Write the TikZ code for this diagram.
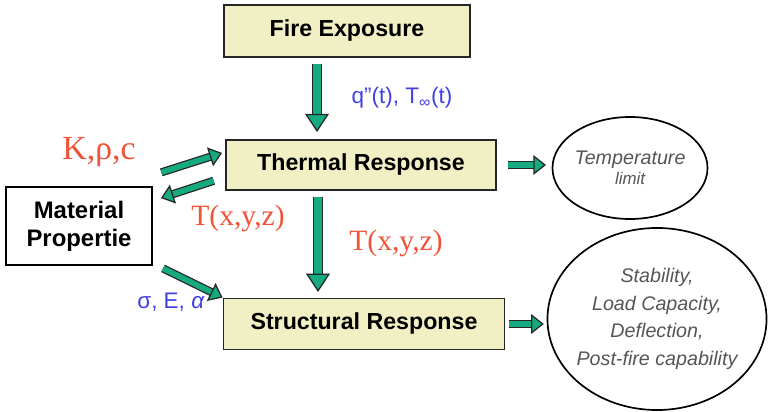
\documentclass[tikz,border=0pt]{standalone}
\usepackage{fontspec}
\setmainfont{Liberation Sans}
\newfontfamily\timesfont{Liberation Serif}
\usepackage{xcolor}
\definecolor{boxfill}{RGB}{240,240,196}
\definecolor{flowgreen}{RGB}{22,170,128}
\definecolor{labelred}{RGB}{240,84,56}
\definecolor{labelblue}{RGB}{64,64,228}
\definecolor{outgray}{RGB}{85,85,85}
\usepackage{tikz}
\usetikzlibrary{
    shapes.geometric,
    arrows.meta,
    positioning,
    calc
}

\begin{document}
\begin{tikzpicture}[x=0.025cm, y=-0.025cm,
        stage/.style={rectangle, draw=black!85, line width=1.3pt, fill=boxfill, font=\fontsize{16.5}{19}\selectfont\bfseries},
        matbox/.style={rectangle, draw=black, line width=1.3pt, fill=white, align=center, font=\fontsize{17}{20}\selectfont\bfseries},
        outcome/.style={ellipse, draw=black, line width=1.2pt},
        outtext/.style={align=center, text=outgray, font=\fontsize{14}{19.5}\selectfont\itshape},
        flow/.style={draw=black!85, line width=0.9pt, double=flowgreen, double distance=5pt, -{Triangle[length=13pt, width=17pt, fill=flowgreen]}, shorten <=4pt},
        sideflow/.style={flow, double distance=4pt, -{Triangle[length=9pt, width=14pt, fill=flowgreen]}},
        redlbl/.style={text=labelred, font=\timesfont\fontsize{21}{24}\selectfont},
        bluelbl/.style={text=labelblue, font=\fontsize{16}{18}\selectfont}
    ]
        \useasboundingbox (0,0) rectangle (770,412);

        \node[stage, minimum width=6.15cm, minimum height=1.3cm] (fire) at (347,31) {Fire Exposure};
        \node[stage, minimum width=6.75cm, minimum height=1.25cm] (thermal) at (361,165) {Thermal Response};
        \node[stage, minimum width=7.025cm, minimum height=1.275cm] (structural) at (364,324) {Structural Response};
        \node[matbox, minimum width=3.65cm, minimum height=1.95cm] (material) at (79,226) {Material\\Propertie};

        \node[outcome, minimum width=3.875cm, minimum height=2.55cm] (templimit) at (630,168) {};
        \node[outtext] (templimittext) at (templimit) {Temperature\\[-5pt]{\fontsize{12}{14}\selectfont limit}};
        \node[outcome, minimum width=5.475cm, minimum height=4.55cm] (capacity) at (657,319) {};
        \node[outtext] (capacitytext) at (capacity) {Stability,\\Load Capacity,\\Deflection,\\Post-fire capability};

        \node[redlbl, font=\timesfont\fontsize{24}{28}\selectfont] (kprops) at (99,152) {K,ρ,c};
        \node[redlbl] (tleft) at (238,218) {T(x,y,z)};
        \node[redlbl] (tright) at (396,243) {T(x,y,z)};
        \node[bluelbl] (heatflux) at (402,98) {q"(t), T\textsubscript{∞}(t)};
        \node[bluelbl] (mechprops) at (171,302) {σ, E, \textit{α}};

        \coordinate (downa) at (317,0);
        \coordinate (downb) at (318,0);

        \draw[flow, shorten >=5pt] (fire.south -| downa) -- (thermal.north -| downa);
        \draw[flow, shorten >=4pt] (thermal.south -| downb) -- (structural.north -| downb);
        \draw[sideflow, shorten <=8pt, shorten >=4pt] (thermal.east) -- (thermal.east -| templimit.west);
        \draw[sideflow, shorten <=2.5pt, shorten >=2pt] (structural.east) -- (structural.east -| capacity.west);
        \draw[sideflow] ([shift={(3,-12)}]material.north east) -- ([shift={(-3,-12)}]thermal.west);
        \draw[sideflow] ([shift={(-6,14)}]thermal.west) -- ([shift={(8,12)}]material.north east);
        \draw[sideflow] ([shift={(5,0)}]material.south east) -- (structural.north west);
    \end{tikzpicture}
\end{document}
